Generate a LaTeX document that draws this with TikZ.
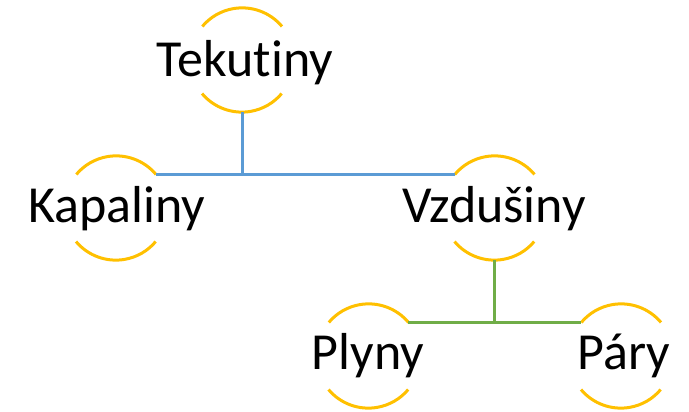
\documentclass[tikz,border=0pt]{standalone}
\usepackage{fontspec}
\setmainfont{Carlito}[Ligatures={NoCommon}]
\definecolor{arcyellow}{HTML}{FFC000}
\definecolor{lineblue}{HTML}{5B9BD5}
\definecolor{linegreen}{HTML}{70AD47}
\begin{document}
\begin{tikzpicture}[x=1pt,y=1pt,
  ring/.style={circle,minimum size=104pt,inner sep=0pt,draw=none},
  arcline/.style={draw=arcyellow,line width=3pt},
  label/.style={anchor=base,inner sep=0pt,font=\fontsize{52}{60}\selectfont},
  bluecon/.style={draw=lineblue,line width=3pt},
  greencon/.style={draw=linegreen,line width=3pt}]
\useasboundingbox (0,0) rectangle (689,412);
% circles
\node[ring] (t) at (242,352) {};
\node[ring] (k) at (116,204) {};
\node[ring] (v) at (494.5,204) {};
\node[ring] (p) at (368.5,56) {};
\node[ring] (r) at (621,56) {};
\foreach \n in {t,k,v,p,r}{
  \draw[arcline] (\n.40) arc (40:140:52pt);
  \draw[arcline] (\n.220) arc (220:320:52pt);
}
% texts
\node[label] (tt) at (245,335.5) {Tekutiny};
\node[label] (kt) at (117,189) {Kapaliny};
\node[label] (vt) at (494,189) {Vzdušiny};
\node[label] (pt) at (368,42.5) {Plyny};
\node[label] (rt) at (624,42.5) {Páry};
% connectors
\coordinate (bj) at (t.south |- k.40);
\draw[bluecon] (t.south) -- (bj);
\draw[bluecon] (k.40) -- (v.140);
\coordinate (gj) at (v.south |- p.40);
\draw[greencon] (v.south) -- (gj);
\draw[greencon] (p.40) -- (r.140);
\end{tikzpicture}
\end{document}
